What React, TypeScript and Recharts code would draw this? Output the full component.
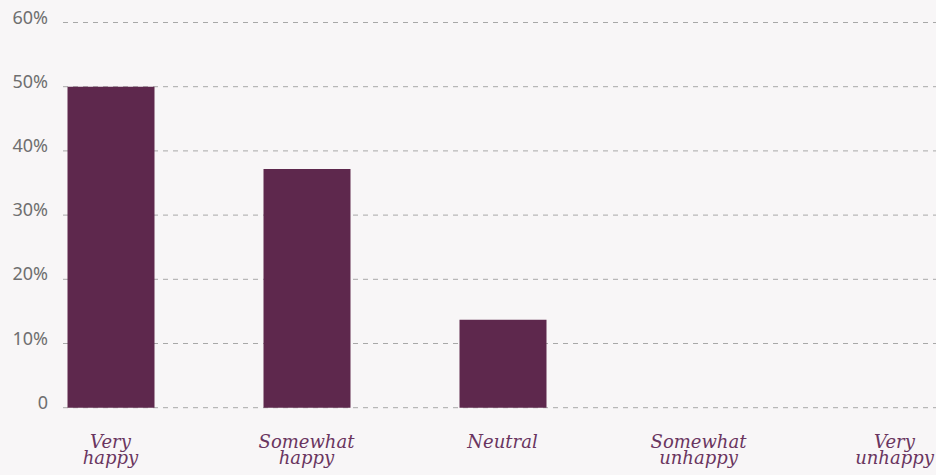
import { BarChart, Bar, XAxis, YAxis, CartesianGrid } from "recharts";

const categories = [
  "Very happy",
  "Somewhat happy",
  "Neutral",
  "Somewhat unhappy",
  "Very unhappy",
];
const shares = [50, 37.2, 13.7, 0, 0];
const yTicks = [0, 10, 20, 30, 40, 50, 60];

// label lines for the x axis, split the way the picture breaks them
const labelLines: Record<string, string[]> = {
  "Very happy": ["Very", "happy"],
  "Somewhat happy": ["Somewhat", "happy"],
  Neutral: ["Neutral"],
  "Somewhat unhappy": ["Somewhat", "unhappy"],
  "Very unhappy": ["Very", "unhappy"],
};

const data = categories.map((name, i) => ({ name, value: shares[i] }));

function YTick({ x, y, payload }: any) {
  return (
    <text
      x={48}
      y={y + 1}
      textAnchor="end"
      fill="#6f6f6f"
      fontSize={18}
      fontFamily="'Noto Sans', sans-serif"
    >
      {payload.value === 0 ? "0" : `${payload.value}%`}
    </text>
  );
}

function XTick({ x, y, payload }: any) {
  const lines = labelLines[payload.value] ?? [payload.value];
  return (
    <text
      x={x}
      y={y}
      textAnchor="middle"
      fill="#6a3560"
      fontSize={18}
      fontStyle="italic"
      fontFamily="'DejaVu Serif', serif"
    >
      {lines.map((l, i) => (
        <tspan key={i} x={x} y={y + 32 + i * 16}>
          {l}
        </tspan>
      ))}
    </text>
  );
}

export default function App() {
  return (
    <div
      style={{
        position: "absolute",
        top: 0,
        left: 0,
        width: 936,
        height: 475,
        background: "#f8f6f7",
        overflow: "hidden",
      }}
    >
      <BarChart
        width={936}
        height={475}
        data={data}
        margin={{ top: 22.5, right: 0, bottom: 7.3, left: 0 }}
      >
        <CartesianGrid
          vertical={false}
          stroke="#a8a8a8"
          strokeDasharray="5 5"
        />
        <XAxis
          dataKey="name"
          height={60}
          axisLine={false}
          tickLine={false}
          padding={{ left: -50.5, right: -56.5 }}
          tick={<XTick />}
          interval={0}
        />
        <YAxis
          width={63}
          domain={[0, 60]}
          ticks={yTicks}
          axisLine={false}
          tickLine={false}
          tick={<YTick />}
        />
        <Bar
          dataKey="value"
          fill="#5e284d"
          barSize={87}
          isAnimationActive={false}
        />
      </BarChart>
    </div>
  );
}
